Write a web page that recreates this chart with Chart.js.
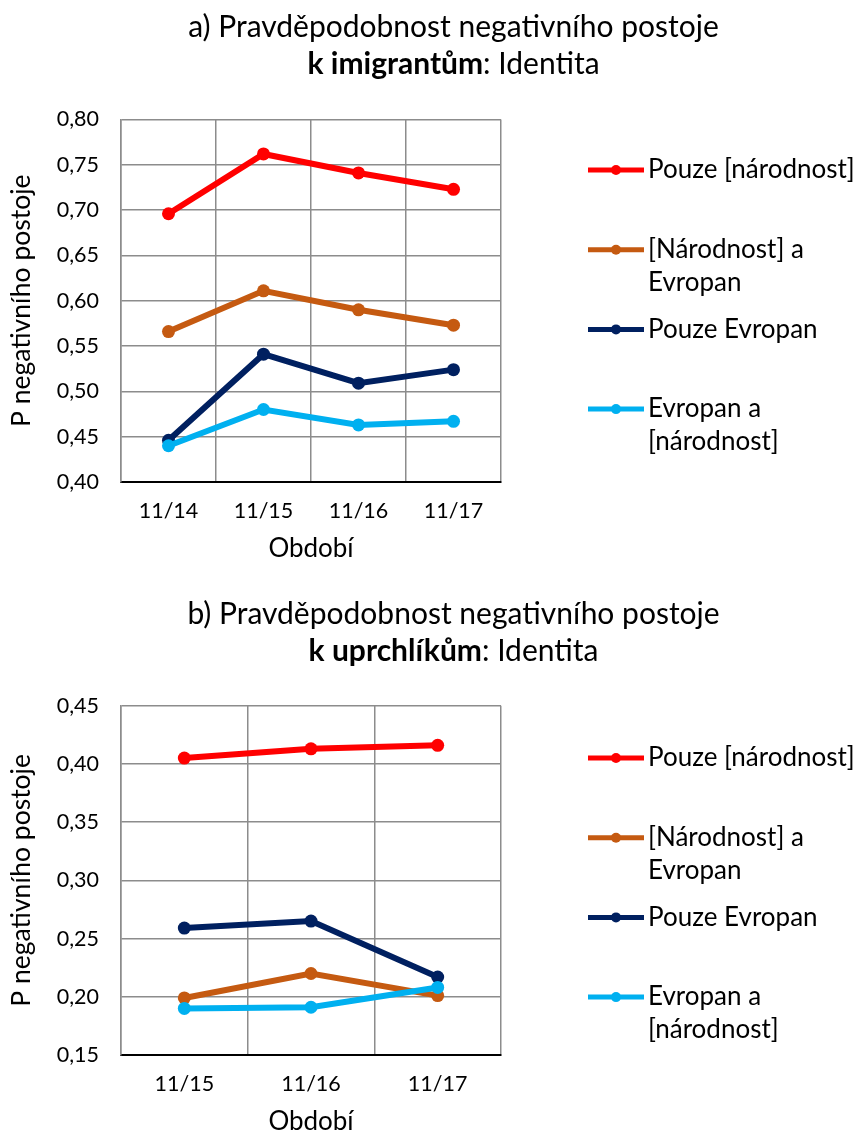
<!DOCTYPE html>
<html>
<head>
<meta charset="utf-8">
<script src="https://cdn.jsdelivr.net/npm/chart.js@4"></script>
<style>
  html, body { margin: 0; padding: 0; background: #fff; }
  #wrap { position: relative; width: 860px; height: 1146px; overflow: hidden; font-family: Lato, "Open Sans", sans-serif; }
  .box { position: absolute; left: 0; width: 860px; height: 573px; }
  .title { position: absolute; left: 0; width: 907px; text-align: center; font-size: 30px; line-height: 37px; color: #000; font-family: Lato, "Open Sans", sans-serif; }
  .title b { font-weight: 700; }
</style>
</head>
<body>
<div id="wrap">
  <div class="box" style="top:0"><canvas id="c1" width="860" height="573"></canvas></div>
  <div class="box" style="top:573px"><canvas id="c2" width="860" height="573"></canvas></div>
  <div class="title" style="top:7px">a) Pravděpodobnost negativního postoje<br><b>k imigrantům</b>: Identita</div>
  <div class="title" style="top:594px">b) Pravděpodobnost negativního postoje<br><b>k uprchlíkům</b>: Identita</div>
</div>
<script>
// ---- Data ----
const seriesNames = [['Pouze [národnost]'], ['[Národnost] a', 'Evropan'], ['Pouze Evropan'], ['Evropan a', '[národnost]']];
const seriesColors = ['#FF0000', '#C55A11', '#002060', '#00B0F0'];

const aCategories = ['11/14', '11/15', '11/16', '11/17'];
const aPouzeNarodnost   = [0.696, 0.762, 0.741, 0.723];
const aNarodnostEvropan = [0.566, 0.611, 0.590, 0.573];
const aPouzeEvropan     = [0.446, 0.541, 0.509, 0.524];
const aEvropanNarodnost = [0.440, 0.480, 0.463, 0.467];
const aYTicks = [0.40, 0.45, 0.50, 0.55, 0.60, 0.65, 0.70, 0.75, 0.80];

const bCategories = ['11/15', '11/16', '11/17'];
const bPouzeNarodnost   = [0.405, 0.413, 0.416];
const bNarodnostEvropan = [0.199, 0.220, 0.201];
const bPouzeEvropan     = [0.259, 0.265, 0.217];
const bEvropanNarodnost = [0.190, 0.191, 0.208];
const bYTicks = [0.15, 0.20, 0.25, 0.30, 0.35, 0.40, 0.45];

const yTitle = 'P negativního postoje';
const xTitle = 'Období';

// ---- Styling ----
const FONT = 'Lato, "Open Sans", sans-serif';
const GRID = '#8c8c8c';

const sideLegend = {
  id: 'sideLegend',
  afterDraw(chart, args, opts) {
    const ctx = chart.ctx;
    ctx.save();
    chart.data.datasets.forEach((ds, i) => {
      const y = opts.top + i * opts.step;
      ctx.strokeStyle = ds.borderColor;
      ctx.lineWidth = 5;
      ctx.beginPath(); ctx.moveTo(opts.x0, y); ctx.lineTo(opts.x1, y); ctx.stroke();
      ctx.fillStyle = ds.borderColor;
      ctx.beginPath(); ctx.arc((opts.x0 + opts.x1) / 2, y, 5, 0, Math.PI * 2); ctx.fill();
      ctx.fillStyle = '#000';
      ctx.font = '26px ' + FONT;
      ctx.textAlign = 'left';
      ctx.textBaseline = 'middle';
      seriesNames[i].forEach((t, k) => ctx.fillText(t, opts.textX, y + k * opts.lineGap));
    });
    ctx.restore();
  }
};

function makeChart(id, cats, series, yMin, yMax, ticks, topPad, legendTop) {
  const datasets = series.map((vals, i) => ({
    label: seriesNames[i].join(' '),
    data: vals,
    borderColor: seriesColors[i],
    backgroundColor: seriesColors[i],
    borderWidth: 6,
    pointRadius: 6.5,
    pointHoverRadius: 6.5,
    pointBorderWidth: 0,
    tension: 0,
    order: series.length - i
  }));
  return new Chart(document.getElementById(id), {
    type: 'line',
    data: { labels: cats, datasets },
    options: {
      responsive: false,
      animation: false,
      devicePixelRatio: 1,
      layout: { padding: { left: 0, right: 359, top: topPad, bottom: 5 } },
      plugins: {
        legend: { display: false },
        tooltip: { enabled: false },
        title: { display: false },
        sideLegend: { top: legendTop, step: 79.7, x0: 588, x1: 644, textX: 648, lineGap: 33 }
      },
      scales: {
        x: {
          offset: true,
          grid: { offset: true, color: GRID, lineWidth: 1.5, drawTicks: false },
          border: { display: true, color: '#000', width: 2 },
          ticks: { padding: 16, color: '#000', font: { family: FONT, size: 21.5 }, maxRotation: 0 },
          title: { display: true, text: xTitle, color: '#000', font: { family: FONT, size: 26 }, padding: { top: 0, bottom: 4 } },
          afterFit(s) { s.height = 86; s.paddingLeft = 0; s.paddingRight = 0; }
        },
        y: {
          min: yMin, max: yMax,
          afterBuildTicks(s) { s.ticks = ticks.map(v => ({ value: v })); },
          grid: { color: GRID, lineWidth: 1.5, drawTicks: false },
          border: { display: true, color: GRID, width: 1.5 },
          ticks: { padding: 22, color: '#000', font: { family: FONT, size: 21.5 },
                   callback: v => Number(v).toFixed(2).replace('.', ',') },
          title: { display: true, text: yTitle, color: '#000', font: { family: FONT, size: 26.5 }, padding: { top: 6, bottom: 0 } },
          afterFit(s) { s.width = 121; s.paddingTop = 0; s.paddingBottom = 0; }
        }
      }
    },
    plugins: [sideLegend]
  });
}

makeChart('c1', aCategories, [aPouzeNarodnost, aNarodnostEvropan, aPouzeEvropan, aEvropanNarodnost], 0.40, 0.80, aYTicks, 119.5, 170);
makeChart('c2', bCategories, [bPouzeNarodnost, bNarodnostEvropan, bPouzeEvropan, bEvropanNarodnost], 0.15, 0.45, bYTicks, 132.7, 185);
</script>
</body>
</html>
